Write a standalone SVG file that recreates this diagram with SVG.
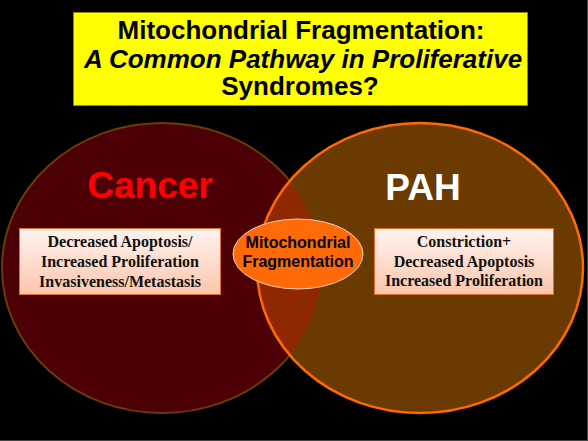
<svg xmlns="http://www.w3.org/2000/svg" width="588" height="441" viewBox="0 0 588 441">
<style>
.title{font-family:"Liberation Sans",Arial,sans-serif;font-weight:bold;font-size:26px;fill:#000;text-anchor:middle}
.big{font-family:"Liberation Sans",Arial,sans-serif;font-weight:bold;font-size:37px;text-anchor:middle}
.box{stroke:#e07030;stroke-width:1;fill:url(#boxg)}
.bt{font-family:"Liberation Serif","Times New Roman",serif;font-weight:bold;font-size:16px;fill:#111;text-anchor:middle}
.mt{font-family:"Liberation Sans",Arial,sans-serif;font-weight:bold;font-size:16px;fill:#000;text-anchor:middle}
</style>
<defs>
<linearGradient id="boxg" x1="0" y1="0" x2="0" y2="1">
<stop offset="0" stop-color="#fff3ee"/>
<stop offset="1" stop-color="#fbc6ac"/>
</linearGradient>
<clipPath id="leftclip"><ellipse cx="162" cy="268" rx="160" ry="145"/></clipPath>
</defs>
<rect width="588" height="441" fill="#000"/>
<line x1="0" y1="440.5" x2="588" y2="440.5" stroke="#444" stroke-width="1"/>
<line x1="587.5" y1="0" x2="587.5" y2="441" stroke="#444" stroke-width="1"/>
<g id="title">
<rect x="73.5" y="12.5" width="454" height="93" fill="#ffff00" stroke="#8a8a00" stroke-width="1"/>
<text class="title" x="301" y="39">Mitochondrial Fragmentation:</text>
<text class="title" x="303" y="68" font-style="italic">A Common Pathway in Proliferative</text>
<text class="title" x="300" y="95">Syndromes?</text>
</g>
<g id="venn">
<ellipse id="cancer-circle" cx="162" cy="268" rx="160" ry="145" fill="#4c0005"/>
<ellipse id="pah-circle" cx="420" cy="268" rx="163" ry="145" fill="#6a3a00"/>
<ellipse cx="420" cy="268" rx="163" ry="145" fill="#8e2800" clip-path="url(#leftclip)"/>
<ellipse cx="162" cy="268" rx="160" ry="145" fill="none" stroke="#6e3a08" stroke-width="2"/>
<ellipse cx="420" cy="268" rx="163" ry="145" fill="none" stroke="#ff6a00" stroke-width="2.5"/>
</g>
<g id="cancer">
<text class="big" x="150" y="198" fill="#ff0000">Cancer</text>
<rect class="box" x="19.5" y="228.5" width="201" height="66"/>
<text class="bt" x="120" y="247">Decreased Apoptosis/</text>
<text class="bt" x="120" y="267">Increased Proliferation</text>
<text class="bt" x="120" y="287">Invasiveness/Metastasis</text>
</g>
<g id="pah">
<text class="big" x="423" y="200" fill="#ffffff">PAH</text>
<rect class="box" x="374.5" y="228.5" width="179" height="66"/>
<text class="bt" x="464" y="247">Constriction+</text>
<text class="bt" x="464" y="267">Decreased Apoptosis</text>
<text class="bt" x="464" y="286">Increased Proliferation</text>
</g>
<g id="mito">
<ellipse cx="298" cy="254" rx="65" ry="35" fill="#ff6a08" stroke="#f4d0b8" stroke-width="1"/>
<text class="mt" x="298" y="248">Mitochondrial</text>
<text class="mt" x="298" y="267">Fragmentation</text>
</g>
</svg>
